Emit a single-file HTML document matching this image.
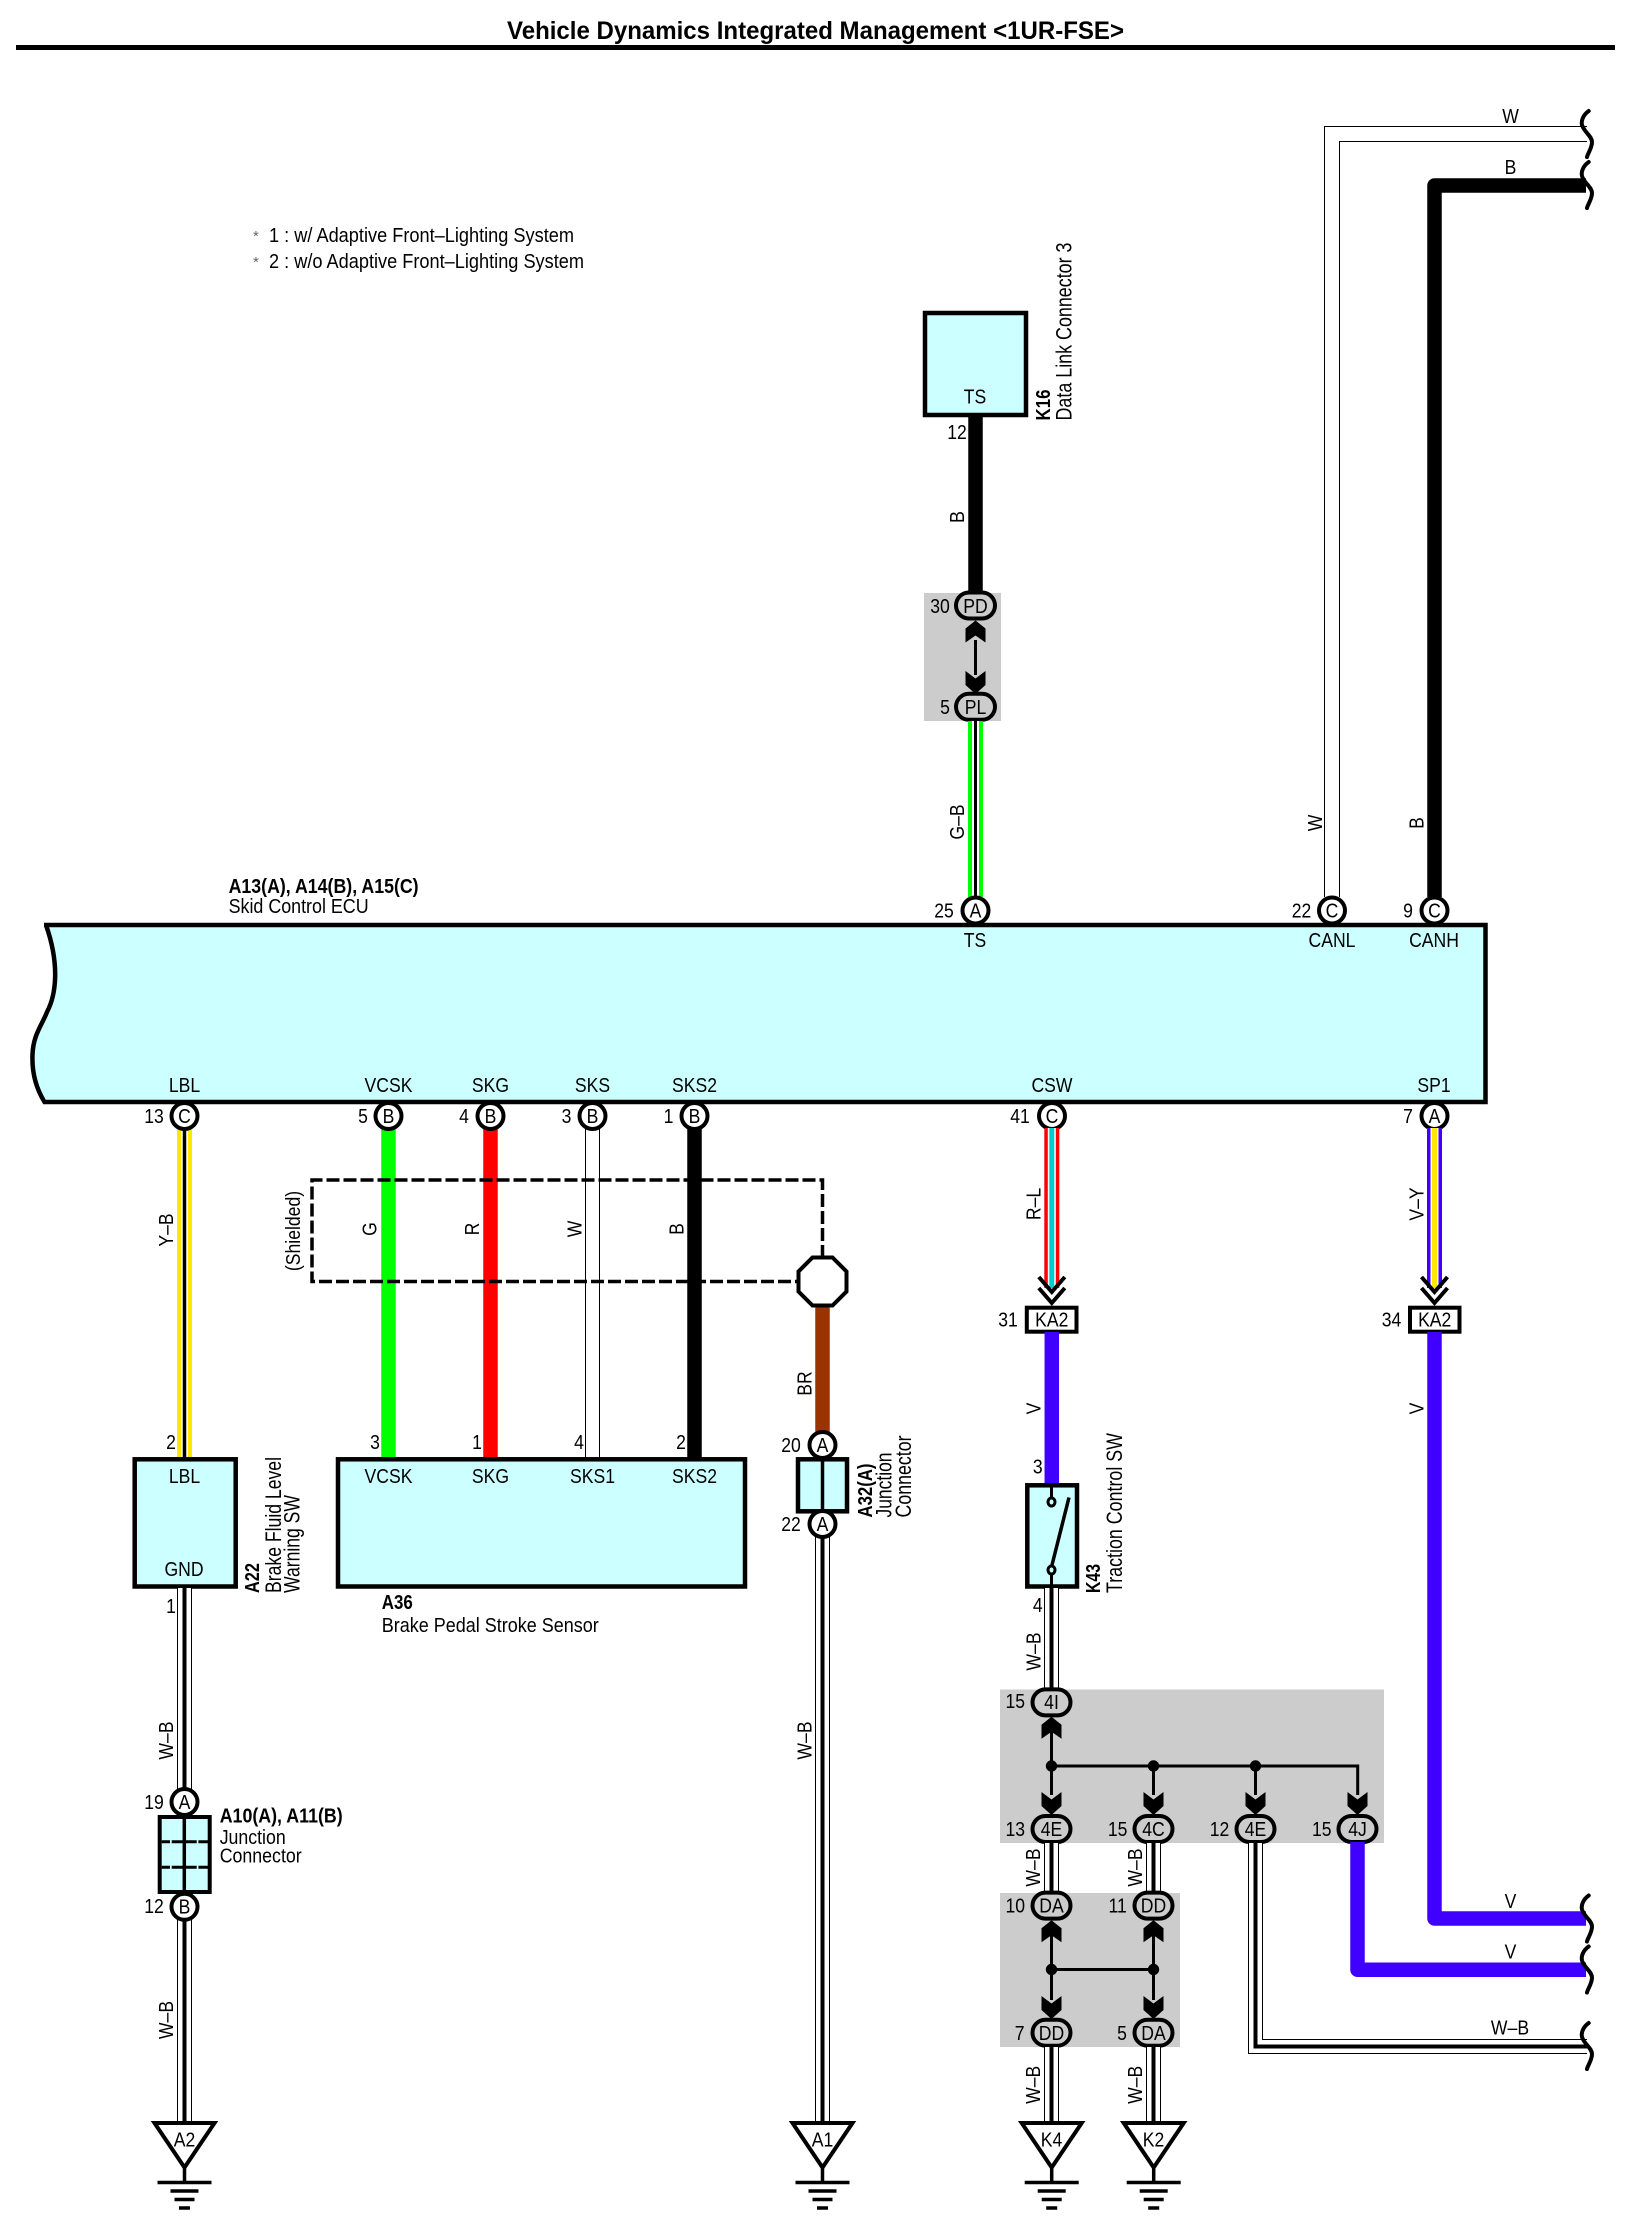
<!DOCTYPE html>
<html><head><meta charset="utf-8"><title>Vehicle Dynamics Integrated Management</title>
<style>
html,body{margin:0;padding:0;background:#fff}
svg{display:block}
text{font-family:"Liberation Sans",Arial,sans-serif;font-size:20px;fill:#000}
.c{text-anchor:middle}
.b{font-weight:bold}
.l{font-size:22px}
.f{fill:#CCFFFF;stroke:#000;stroke-width:4.5}
.o{fill:#fff;stroke:#000;stroke-width:4}
.p{fill:#CCCCCC;stroke:#000;stroke-width:4}
line,path{fill:none}
</style></head><body>
<svg xmlns="http://www.w3.org/2000/svg" width="1637" height="2223" viewBox="0 0 1637 2223">
<defs>
<g id="gnd">
<polygon points="-30,0.5 30,0.5 0,45" fill="#fff" stroke="#000" stroke-width="4" stroke-miterlimit="6"/>
<path d="M0,45V60" stroke="#000" stroke-width="3.5"/>
<path d="M-27,60H27" stroke="#000" stroke-width="3.5"/>
<path d="M-14,68.500H14" stroke="#000" stroke-width="3.5"/>
<path d="M-10,77H10" stroke="#000" stroke-width="3.5"/>
<path d="M-5.500,85.500H5.500" stroke="#000" stroke-width="3.5"/>
</g>
<polygon id="up" points="0,0 10,8 10,22 0,15 -10,22 -10,8" fill="#000"/>
<polygon id="dn" points="0,0 -10,-9 -10,-23 0,-15.500 10,-23 10,-9" fill="#000"/>
<path id="sq" d="M1588.700,-23C1583,-19 1581,-13 1582,-9C1584,-2 1592,2 1592,8C1592,14 1588,19 1587,23" fill="none" stroke="#000" stroke-width="4" stroke-linecap="round"/>
<g id="ch"><path d="M-13,0L0,15L13,0M-13,11L0,26L13,11" fill="none" stroke="#000" stroke-width="4"/></g>
</defs>

<!-- title -->
<text class="b" x="507" y="39" style="font-size:25px" textLength="617" lengthAdjust="spacingAndGlyphs">Vehicle Dynamics Integrated Management &lt;1UR-FSE&gt;</text>
<rect x="16" y="45" width="1599" height="5" fill="#000"/>

<!-- notes -->
<text x="253" y="241" style="font-size:15px;fill:#666">*</text>
<text x="269" y="242" textLength="305" lengthAdjust="spacingAndGlyphs">1 : w/ Adaptive Front–Lighting System</text>
<text x="253" y="267" style="font-size:15px;fill:#666">*</text>
<text x="269" y="268" textLength="315" lengthAdjust="spacingAndGlyphs">2 : w/o Adaptive Front–Lighting System</text>

<!-- gray zones -->
<rect x="924" y="593" width="77" height="128" fill="#CCCCCC"/>
<rect x="1000" y="1689.500" width="384" height="153.500" fill="#CCCCCC"/>
<rect x="1000" y="1893" width="180" height="154" fill="#CCCCCC"/>

<!-- ECU body -->
<path class="f" d="M44,925H1485.500V1102H44.500C34,1085 32,1068 32.500,1055C33,1035 42,1025 47,1012C56,995 60,965 46,925Z"/>
<text class="b" x="228.600" y="893" textLength="190" lengthAdjust="spacingAndGlyphs">A13(A), A14(B), A15(C)</text>
<text x="228.600" y="913" textLength="140" lengthAdjust="spacingAndGlyphs">Skid Control ECU</text>

<!-- wires: top right -->
<path d="M1332,897V134H1587" stroke="#000" stroke-width="16"/>
<path d="M1332,897V134H1587" stroke="#fff" stroke-width="14"/>
<path d="M1434.500,897V185.500H1586" stroke="#000" stroke-width="14.500" stroke-linejoin="round"/>
<use href="#sq" y="134"/><use href="#sq" y="185"/>
<text class="c" transform="translate(1510.500 123) scale(.88 1)">W</text>
<text class="c" transform="translate(1510.500 174) scale(.88 1)">B</text>

<!-- K16 -->
<line x1="975.500" y1="415" x2="975.500" y2="596" stroke="#000" stroke-width="14.500"/>
<rect class="f" x="925" y="313" width="101" height="102"/>
<text class="c" transform="translate(975 403.500) scale(.88 1)">TS</text>
<text class="c" transform="translate(957 439) scale(.88 1)">12</text>
<text class="c" transform="translate(964 517) rotate(-90) scale(.9 1)">B</text>
<text class="b" transform="translate(1050 420.500) rotate(-90)" textLength="31" lengthAdjust="spacingAndGlyphs">K16</text>
<text class="l" transform="translate(1071.500 420.500) rotate(-90)" textLength="178" lengthAdjust="spacingAndGlyphs">Data Link Connector 3</text>

<!-- PD/PL -->
<line x1="975.500" y1="640" x2="975.500" y2="675" stroke="#000" stroke-width="3"/>
<use href="#up" x="975.500" y="620.500"/>
<use href="#dn" x="975.500" y="694"/>
<rect class="p" x="956" y="592.500" width="39" height="26" rx="13"/>
<rect class="p" x="956" y="693.800" width="39" height="26" rx="13"/>
<text class="c" transform="translate(975.500 613) scale(.88 1)">PD</text>
<text class="c" transform="translate(975.500 714) scale(.88 1)">PL</text>
<text class="c" transform="translate(940 613) scale(.88 1)">30</text>
<text class="c" transform="translate(945 714) scale(.88 1)">5</text>

<!-- G-B -->
<line x1="975.500" y1="721" x2="975.500" y2="897" stroke="#00FF00" stroke-width="15"/>
<line x1="975.500" y1="721" x2="975.500" y2="897" stroke="#fff" stroke-width="7"/>
<line x1="975.500" y1="721" x2="975.500" y2="897" stroke="#000" stroke-width="3"/>
<text class="c" transform="translate(964 822) rotate(-90) scale(.88 1)">G–B</text>

<text class="c" transform="translate(1322 823) rotate(-90) scale(.88 1)">W</text>
<text class="c" transform="translate(1423.500 823) rotate(-90) scale(.88 1)">B</text>

<!-- ECU top connectors -->
<circle class="o" cx="975.500" cy="910.500" r="13"/>
<circle class="o" cx="1332" cy="910.500" r="13"/>
<circle class="o" cx="1434.500" cy="910.500" r="13"/>
<text class="c" transform="translate(975.500 917.500) scale(.88 1)">A</text>
<text class="c" transform="translate(1332 917.500) scale(.88 1)">C</text>
<text class="c" transform="translate(1434.500 917.500) scale(.88 1)">C</text>
<text class="c" transform="translate(944 917.500) scale(.88 1)">25</text>
<text class="c" transform="translate(1301.500 917.500) scale(.88 1)">22</text>
<text class="c" transform="translate(1408 917.500) scale(.88 1)">9</text>
<text class="c" transform="translate(975 947) scale(.88 1)">TS</text>
<text class="c" transform="translate(1332 947) scale(.88 1)">CANL</text>
<text class="c" transform="translate(1434 947) scale(.88 1)">CANH</text>

<!-- ECU bottom labels -->
<text class="c" transform="translate(184.500 1092) scale(.88 1)">LBL</text>
<text class="c" transform="translate(388.500 1092) scale(.88 1)">VCSK</text>
<text class="c" transform="translate(490.500 1092) scale(.88 1)">SKG</text>
<text class="c" transform="translate(592.500 1092) scale(.88 1)">SKS</text>
<text class="c" transform="translate(694.500 1092) scale(.88 1)">SKS2</text>
<text class="c" transform="translate(1052 1092) scale(.88 1)">CSW</text>
<text class="c" transform="translate(1434 1092) scale(.88 1)">SP1</text>

<!-- wires below ECU -->
<line x1="184.500" y1="1128" x2="184.500" y2="1459" stroke="#FFE800" stroke-width="15"/>
<line x1="184.500" y1="1128" x2="184.500" y2="1459" stroke="#fff" stroke-width="7"/>
<line x1="184.500" y1="1128" x2="184.500" y2="1459" stroke="#000" stroke-width="3.500"/>
<line x1="388.500" y1="1128" x2="388.500" y2="1459" stroke="#00FF00" stroke-width="14.500"/>
<line x1="490.500" y1="1128" x2="490.500" y2="1459" stroke="#FF0000" stroke-width="14.500"/>
<line x1="592.500" y1="1128" x2="592.500" y2="1459" stroke="#000" stroke-width="15"/>
<line x1="592.500" y1="1128" x2="592.500" y2="1459" stroke="#fff" stroke-width="13"/>
<line x1="694.500" y1="1128" x2="694.500" y2="1459" stroke="#000" stroke-width="14.500"/>
<line x1="822.500" y1="1305" x2="822.500" y2="1433" stroke="#993300" stroke-width="14.500"/>

<!-- shield -->
<path d="M822.500,1258V1180H312V1281.500H797" stroke="#000" stroke-width="3.500" stroke-dasharray="13 4"/>
<polygon points="812.500,1257.500 832.500,1257.500 846.500,1271.500 846.500,1291.500 832.500,1305.500 812.500,1305.500 798.500,1291.500 798.500,1271.500" fill="#fff" stroke="#000" stroke-width="4"/>
<text class="c" transform="translate(300 1231) rotate(-90) scale(.88 1)">(Shielded)</text>
<text class="c" transform="translate(173 1230) rotate(-90) scale(.88 1)">Y–B</text>
<text class="c" transform="translate(376.500 1229) rotate(-90) scale(.88 1)">G</text>
<text class="c" transform="translate(479 1229) rotate(-90) scale(.88 1)">R</text>
<text class="c" transform="translate(581.500 1229) rotate(-90) scale(.88 1)">W</text>
<text class="c" transform="translate(683.500 1229) rotate(-90) scale(.88 1)">B</text>
<text class="c" transform="translate(811.500 1383.500) rotate(-90) scale(.88 1)">BR</text>

<!-- bottom ECU connectors -->
<circle class="o" cx="184.500" cy="1116" r="13"/>
<circle class="o" cx="388.500" cy="1116" r="13"/>
<circle class="o" cx="490.500" cy="1116" r="13"/>
<circle class="o" cx="592.500" cy="1116" r="13"/>
<circle class="o" cx="694.500" cy="1116" r="13"/>
<circle class="o" cx="1052" cy="1116" r="13"/>
<circle class="o" cx="1434.500" cy="1116" r="13"/>
<text class="c" transform="translate(184.500 1123) scale(.88 1)">C</text>
<text class="c" transform="translate(388.500 1123) scale(.88 1)">B</text>
<text class="c" transform="translate(490.500 1123) scale(.88 1)">B</text>
<text class="c" transform="translate(592.500 1123) scale(.88 1)">B</text>
<text class="c" transform="translate(694.500 1123) scale(.88 1)">B</text>
<text class="c" transform="translate(1052 1123) scale(.88 1)">C</text>
<text class="c" transform="translate(1434.500 1123) scale(.88 1)">A</text>
<text class="c" transform="translate(154 1123) scale(.88 1)">13</text>
<text class="c" transform="translate(363 1123) scale(.88 1)">5</text>
<text class="c" transform="translate(464 1123) scale(.88 1)">4</text>
<text class="c" transform="translate(566.500 1123) scale(.88 1)">3</text>
<text class="c" transform="translate(668.500 1123) scale(.88 1)">1</text>
<text class="c" transform="translate(1020 1123) scale(.88 1)">41</text>
<text class="c" transform="translate(1408 1123) scale(.88 1)">7</text>

<!-- A22 -->
<rect class="f" x="134.700" y="1459.300" width="101" height="127.200"/>
<text class="c" transform="translate(184.500 1483) scale(.88 1)">LBL</text>
<text class="c" transform="translate(184 1576) scale(.88 1)">GND</text>
<text class="c" transform="translate(171 1449) scale(.88 1)">2</text>
<text class="c" transform="translate(171 1613) scale(.88 1)">1</text>
<text class="b" transform="translate(259 1593) rotate(-90)" textLength="30" lengthAdjust="spacingAndGlyphs">A22</text>
<text class="l" transform="translate(281 1593) rotate(-90)" textLength="136" lengthAdjust="spacingAndGlyphs">Brake Fluid Level</text>
<text class="l" transform="translate(299.500 1593) rotate(-90)" textLength="98" lengthAdjust="spacingAndGlyphs">Warning SW</text>

<!-- A36 -->
<rect class="f" x="338" y="1459.300" width="407" height="127.200"/>
<text class="c" transform="translate(388.500 1483) scale(.88 1)">VCSK</text>
<text class="c" transform="translate(490.500 1483) scale(.88 1)">SKG</text>
<text class="c" transform="translate(592.500 1483) scale(.88 1)">SKS1</text>
<text class="c" transform="translate(694.500 1483) scale(.88 1)">SKS2</text>
<text class="c" transform="translate(375 1449) scale(.88 1)">3</text>
<text class="c" transform="translate(477 1449) scale(.88 1)">1</text>
<text class="c" transform="translate(579 1449) scale(.88 1)">4</text>
<text class="c" transform="translate(681 1449) scale(.88 1)">2</text>
<text class="b" x="381.800" y="1609" textLength="31" lengthAdjust="spacingAndGlyphs">A36</text>
<text x="381.800" y="1632" textLength="217" lengthAdjust="spacingAndGlyphs">Brake Pedal Stroke Sensor</text>

<!-- A32 -->
<line x1="822.500" y1="1530" x2="822.500" y2="2123" stroke="#000" stroke-width="15"/>
<line x1="822.500" y1="1530" x2="822.500" y2="2123" stroke="#fff" stroke-width="13"/>
<line x1="822.500" y1="1530" x2="822.500" y2="2123" stroke="#000" stroke-width="4"/>
<rect class="f" x="798" y="1459.300" width="49" height="52"/>
<line x1="822.500" y1="1459" x2="822.500" y2="1511" stroke="#000" stroke-width="3.500"/>
<circle class="o" cx="822.500" cy="1445" r="13"/>
<circle class="o" cx="822.500" cy="1524" r="13"/>
<text class="c" transform="translate(822.500 1452) scale(.88 1)">A</text>
<text class="c" transform="translate(822.500 1531) scale(.88 1)">A</text>
<text class="c" transform="translate(791 1452) scale(.88 1)">20</text>
<text class="c" transform="translate(791 1531) scale(.88 1)">22</text>
<text class="b" transform="translate(872 1517.500) rotate(-90)" textLength="54" lengthAdjust="spacingAndGlyphs">A32(A)</text>
<text class="l" transform="translate(891.500 1517.500) rotate(-90)" textLength="65" lengthAdjust="spacingAndGlyphs">Junction</text>
<text class="l" transform="translate(911 1517.500) rotate(-90)" textLength="82" lengthAdjust="spacingAndGlyphs">Connector</text>
<text class="c" transform="translate(811.500 1740.500) rotate(-90) scale(.88 1)">W–B</text>
<use href="#gnd" x="822.500" y="2122.500"/>
<text class="c" transform="translate(822.500 2146.500) scale(.88 1)">A1</text>

<!-- A10 column -->
<line x1="184.500" y1="1588" x2="184.500" y2="2123" stroke="#000" stroke-width="15"/>
<line x1="184.500" y1="1588" x2="184.500" y2="2123" stroke="#fff" stroke-width="13"/>
<line x1="184.500" y1="1588" x2="184.500" y2="2123" stroke="#000" stroke-width="4"/>
<rect x="159.700" y="1817" width="50" height="75" fill="#CCFFFF" stroke="#000" stroke-width="4"/>
<line x1="184.300" y1="1817" x2="184.300" y2="1892" stroke="#000" stroke-width="3.500"/>
<line x1="161.700" y1="1841.700" x2="208" y2="1841.700" stroke="#000" stroke-width="3" stroke-dasharray="8.300 1.700 25 1.700 12"/>
<line x1="161.700" y1="1867.300" x2="208" y2="1867.300" stroke="#000" stroke-width="3" stroke-dasharray="8.300 1.700 25 1.700 12"/>
<circle class="o" cx="184.500" cy="1802" r="13"/>
<circle class="o" cx="184.500" cy="1906.800" r="13"/>
<text class="c" transform="translate(184.500 1809) scale(.88 1)">A</text>
<text class="c" transform="translate(184.500 1913.500) scale(.88 1)">B</text>
<text class="c" transform="translate(154 1809) scale(.88 1)">19</text>
<text class="c" transform="translate(154 1913) scale(.88 1)">12</text>
<text class="b" x="219.700" y="1822.700" textLength="123" lengthAdjust="spacingAndGlyphs">A10(A), A11(B)</text>
<text x="219.700" y="1843.800" textLength="66" lengthAdjust="spacingAndGlyphs">Junction</text>
<text x="219.700" y="1862.500" textLength="82" lengthAdjust="spacingAndGlyphs">Connector</text>
<text class="c" transform="translate(173 1740.500) rotate(-90) scale(.88 1)">W–B</text>
<text class="c" transform="translate(173 2020) rotate(-90) scale(.88 1)">W–B</text>
<use href="#gnd" x="184.500" y="2122.500"/>
<text class="c" transform="translate(184.500 2146.500) scale(.88 1)">A2</text>

<!-- CSW column -->
<line x1="1051.800" y1="1128" x2="1051.800" y2="1288" stroke="#FF0000" stroke-width="15"/>
<line x1="1051.800" y1="1128" x2="1051.800" y2="1288" stroke="#fff" stroke-width="8"/>
<line x1="1051.800" y1="1128" x2="1051.800" y2="1288" stroke="#00CCCC" stroke-width="5"/>
<use href="#ch" x="1051.800" y="1277"/>
<rect class="o" x="1026.800" y="1307.700" width="49.700" height="24"/>
<text class="c" transform="translate(1051.800 1326.500) scale(.88 1)">KA2</text>
<text class="c" transform="translate(1008 1326.500) scale(.88 1)">31</text>
<text class="c" transform="translate(1040.500 1204) rotate(-90) scale(.88 1)">R–L</text>
<line x1="1051.800" y1="1332" x2="1051.800" y2="1485" stroke="#4000FF" stroke-width="14.500"/>
<text class="c" transform="translate(1040.500 1408.500) rotate(-90) scale(.88 1)">V</text>
<text class="c" transform="translate(1037.800 1473.500) scale(.88 1)">3</text>

<!-- K43 -->
<rect class="f" x="1027.300" y="1485.300" width="49.700" height="101.200"/>
<line x1="1051.500" y1="1486" x2="1051.500" y2="1498" stroke="#000" stroke-width="3"/>
<ellipse cx="1051.500" cy="1502" rx="3.500" ry="4" fill="#CCFFFF" stroke="#000" stroke-width="3"/>
<line x1="1052" y1="1565" x2="1069" y2="1497.500" stroke="#000" stroke-width="3.500"/>
<ellipse cx="1051.500" cy="1570" rx="3.500" ry="4" fill="#CCFFFF" stroke="#000" stroke-width="3"/>
<line x1="1051.500" y1="1574" x2="1051.500" y2="1586" stroke="#000" stroke-width="3"/>
<text class="c" transform="translate(1037.800 1612) scale(.88 1)">4</text>
<text class="b" transform="translate(1100 1593) rotate(-90)" textLength="29" lengthAdjust="spacingAndGlyphs">K43</text>
<text class="l" transform="translate(1122 1593) rotate(-90)" textLength="160" lengthAdjust="spacingAndGlyphs">Traction Control SW</text>
<line x1="1051.500" y1="1588" x2="1051.500" y2="1690" stroke="#000" stroke-width="15"/>
<line x1="1051.500" y1="1588" x2="1051.500" y2="1690" stroke="#fff" stroke-width="13"/>
<line x1="1051.500" y1="1588" x2="1051.500" y2="1690" stroke="#000" stroke-width="4"/>
<text class="c" transform="translate(1040.500 1651.500) rotate(-90) scale(.88 1)">W–B</text>

<!-- SP1 column -->
<line x1="1434.500" y1="1128" x2="1434.500" y2="1288" stroke="#4000FF" stroke-width="15"/>
<line x1="1434.500" y1="1128" x2="1434.500" y2="1288" stroke="#fff" stroke-width="8"/>
<line x1="1434.500" y1="1128" x2="1434.500" y2="1288" stroke="#FFE800" stroke-width="5"/>
<use href="#ch" x="1434.500" y="1277"/>
<rect class="o" x="1410" y="1307.700" width="49.500" height="24"/>
<text class="c" transform="translate(1434.700 1326.500) scale(.88 1)">KA2</text>
<text class="c" transform="translate(1391.500 1326.500) scale(.88 1)">34</text>
<text class="c" transform="translate(1423.500 1204) rotate(-90) scale(.88 1)">V–Y</text>
<path d="M1434.500,1332V1918.500H1586" stroke="#4000FF" stroke-width="14.500" stroke-linejoin="round"/>
<text class="c" transform="translate(1423.500 1408.500) rotate(-90) scale(.88 1)">V</text>

<!-- splice block A -->
<line x1="1051.500" y1="1730" x2="1051.500" y2="1795" stroke="#000" stroke-width="3"/>
<path d="M1051.500,1766H1357.700V1795M1153.500,1766V1795M1255.500,1766V1795" stroke="#000" stroke-width="3"/>
<circle cx="1051.500" cy="1766" r="5.700" fill="#000"/>
<circle cx="1153.500" cy="1766" r="5.700" fill="#000"/>
<circle cx="1255.500" cy="1766" r="5.700" fill="#000"/>
<use href="#up" x="1051.500" y="1716.700"/>
<use href="#dn" x="1051.500" y="1815"/>
<use href="#dn" x="1153.500" y="1815"/>
<use href="#dn" x="1255.500" y="1815"/>
<use href="#dn" x="1357.500" y="1815"/>
<rect class="p" x="1032.500" y="1689.400" width="38" height="26" rx="13"/>
<rect class="p" x="1032.500" y="1816" width="38" height="26" rx="13"/>
<rect class="p" x="1134.500" y="1816" width="38" height="26" rx="13"/>
<rect class="p" x="1236.500" y="1816" width="38" height="26" rx="13"/>
<rect class="p" x="1338.500" y="1816" width="38" height="26" rx="13"/>
<text class="c" transform="translate(1051.500 1709) scale(.88 1)">4I</text>
<text class="c" transform="translate(1015.300 1708) scale(.88 1)">15</text>
<text class="c" transform="translate(1051.500 1836) scale(.88 1)">4E</text>
<text class="c" transform="translate(1153.500 1836) scale(.88 1)">4C</text>
<text class="c" transform="translate(1255.500 1836) scale(.88 1)">4E</text>
<text class="c" transform="translate(1357.500 1836) scale(.88 1)">4J</text>
<text class="c" transform="translate(1015.300 1836) scale(.88 1)">13</text>
<text class="c" transform="translate(1117.600 1836) scale(.88 1)">15</text>
<text class="c" transform="translate(1219.500 1836) scale(.88 1)">12</text>
<text class="c" transform="translate(1321.800 1836) scale(.88 1)">15</text>

<!-- between blocks -->
<line x1="1051.500" y1="1843" x2="1051.500" y2="1893" stroke="#000" stroke-width="15"/>
<line x1="1051.500" y1="1843" x2="1051.500" y2="1893" stroke="#fff" stroke-width="13"/>
<line x1="1051.500" y1="1843" x2="1051.500" y2="1893" stroke="#000" stroke-width="4"/>
<line x1="1153.500" y1="1843" x2="1153.500" y2="1893" stroke="#000" stroke-width="15"/>
<line x1="1153.500" y1="1843" x2="1153.500" y2="1893" stroke="#fff" stroke-width="13"/>
<line x1="1153.500" y1="1843" x2="1153.500" y2="1893" stroke="#000" stroke-width="4"/>
<text class="c" transform="translate(1040 1867.500) rotate(-90) scale(.88 1)">W–B</text>
<text class="c" transform="translate(1142 1867.500) rotate(-90) scale(.88 1)">W–B</text>

<!-- 4E run -->
<path d="M1255.500,1843V2046.500H1587" stroke="#000" stroke-width="15"/>
<path d="M1255.500,1843V2046.500H1587" stroke="#fff" stroke-width="13"/>
<path d="M1255.500,1843V2046.500H1587" stroke="#000" stroke-width="4"/>
<text class="c" transform="translate(1510 2034.500) scale(.88 1)">W–B</text>
<!-- 4J run -->
<path d="M1357.500,1842V1969.700H1586" stroke="#4000FF" stroke-width="14.500" stroke-linejoin="round"/>
<use href="#sq" y="1918.500"/><use href="#sq" y="1969.500"/><use href="#sq" y="2046"/>
<text class="c" transform="translate(1510.500 1908) scale(.88 1)">V</text>
<text class="c" transform="translate(1510.500 1958.500) scale(.88 1)">V</text>

<!-- splice block B -->
<path d="M1051.500,1935V2000M1153.500,1935V2000M1051.500,1969.500H1153.500" stroke="#000" stroke-width="3"/>
<circle cx="1051.500" cy="1969.500" r="5.700" fill="#000"/>
<circle cx="1153.500" cy="1969.500" r="5.700" fill="#000"/>
<use href="#up" x="1051.500" y="1920.300"/>
<use href="#up" x="1153.500" y="1920.300"/>
<use href="#dn" x="1051.500" y="2019"/>
<use href="#dn" x="1153.500" y="2019"/>
<rect class="p" x="1032.500" y="1892.600" width="38" height="26" rx="13"/>
<rect class="p" x="1134.500" y="1892.600" width="38" height="26" rx="13"/>
<rect class="p" x="1032.500" y="2019.700" width="38" height="26" rx="13"/>
<rect class="p" x="1134.500" y="2019.700" width="38" height="26" rx="13"/>
<text class="c" transform="translate(1051.500 1912.500) scale(.88 1)">DA</text>
<text class="c" transform="translate(1153.500 1912.500) scale(.88 1)">DD</text>
<text class="c" transform="translate(1051.500 2040) scale(.88 1)">DD</text>
<text class="c" transform="translate(1153.500 2040) scale(.88 1)">DA</text>
<text class="c" transform="translate(1015.300 1912.500) scale(.88 1)">10</text>
<text class="c" transform="translate(1117.600 1912.500) scale(.88 1)">11</text>
<text class="c" transform="translate(1019.600 2040) scale(.88 1)">7</text>
<text class="c" transform="translate(1122 2040) scale(.88 1)">5</text>

<!-- K4 K2 -->
<line x1="1051.500" y1="2047" x2="1051.500" y2="2123" stroke="#000" stroke-width="15"/>
<line x1="1051.500" y1="2047" x2="1051.500" y2="2123" stroke="#fff" stroke-width="13"/>
<line x1="1051.500" y1="2047" x2="1051.500" y2="2123" stroke="#000" stroke-width="4"/>
<line x1="1153.500" y1="2047" x2="1153.500" y2="2123" stroke="#000" stroke-width="15"/>
<line x1="1153.500" y1="2047" x2="1153.500" y2="2123" stroke="#fff" stroke-width="13"/>
<line x1="1153.500" y1="2047" x2="1153.500" y2="2123" stroke="#000" stroke-width="4"/>
<text class="c" transform="translate(1040 2084.800) rotate(-90) scale(.88 1)">W–B</text>
<text class="c" transform="translate(1142 2084.800) rotate(-90) scale(.88 1)">W–B</text>
<use href="#gnd" x="1051.700" y="2122.500"/>
<use href="#gnd" x="1153.700" y="2122.500"/>
<text class="c" transform="translate(1051.500 2146.500) scale(.88 1)">K4</text>
<text class="c" transform="translate(1153.500 2146.500) scale(.88 1)">K2</text>
</svg>
</body></html>
